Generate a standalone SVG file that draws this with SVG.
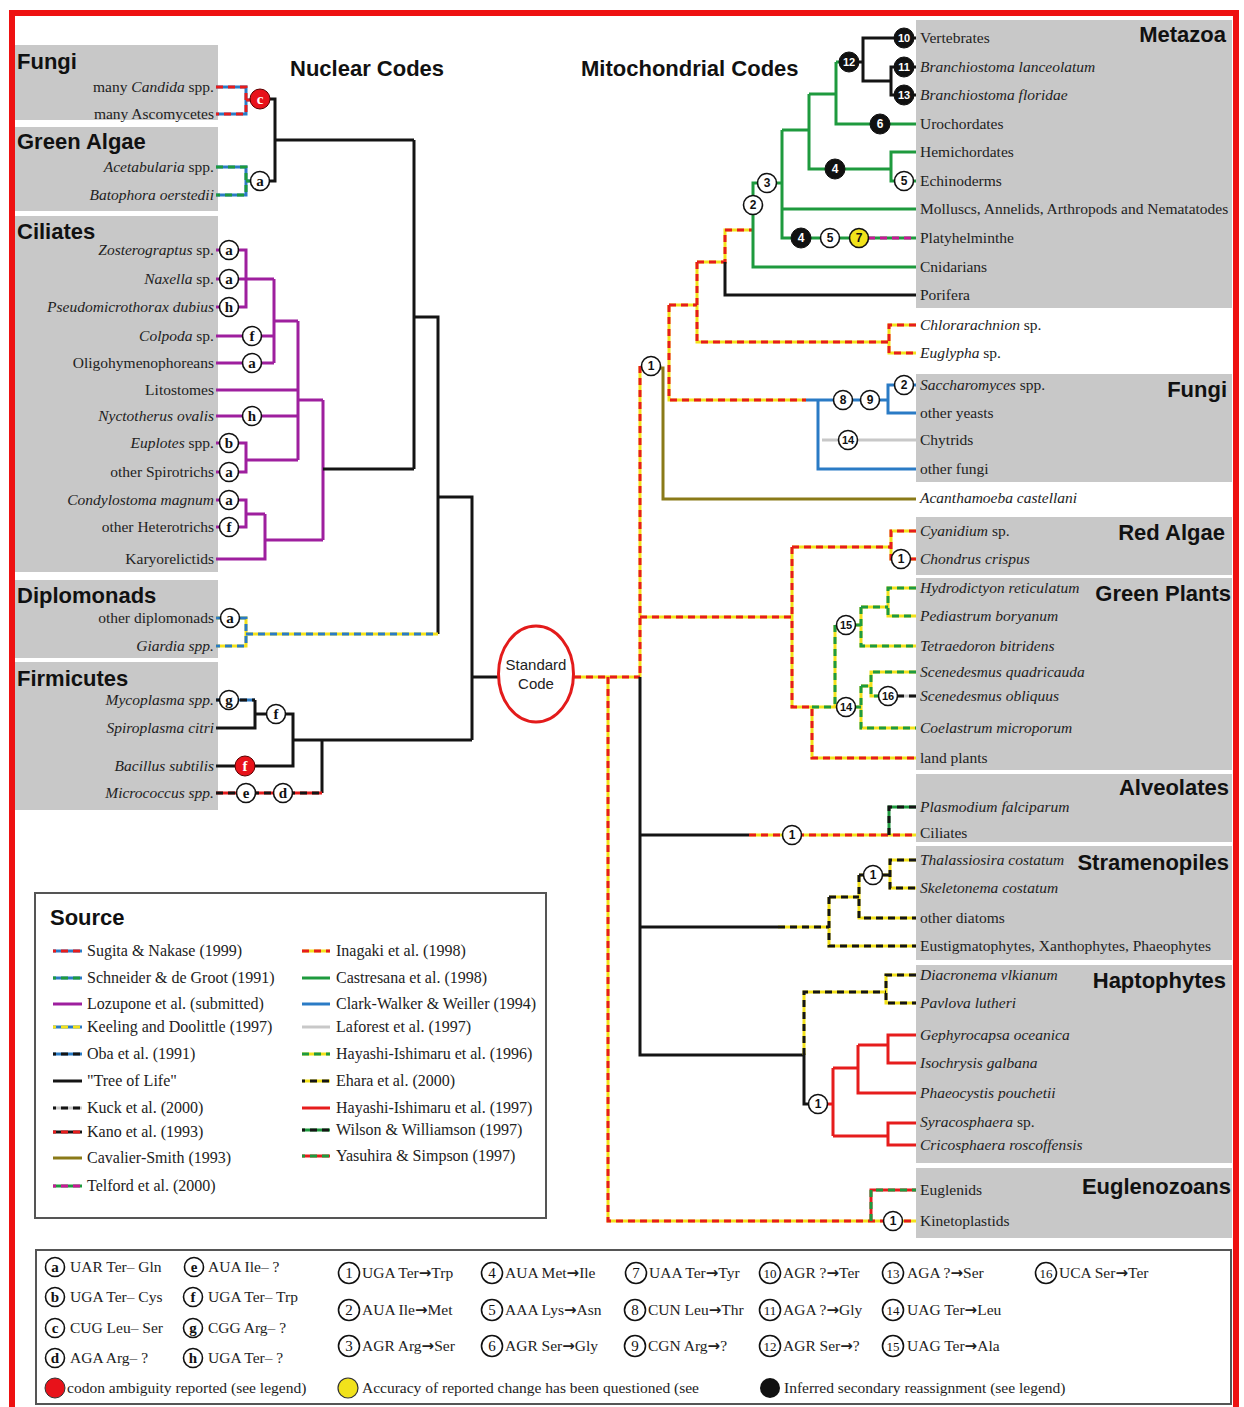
<svg xmlns="http://www.w3.org/2000/svg" width="1244" height="1407" viewBox="0 0 1244 1407">
<defs>
<style>
text{font-family:"Liberation Serif","Times New Roman",serif;fill:#222}
.t{font-size:15.5px}
.te{font-size:15.5px;text-anchor:end}
.i{font-style:italic}
.h{font-family:"Liberation Sans",Arial,sans-serif;font-weight:bold;font-size:22px;fill:#111}
.he{font-family:"Liberation Sans",Arial,sans-serif;font-weight:bold;font-size:22px;fill:#111;text-anchor:end}
.L{font-size:16px}
.B{font-size:15.5px}
.ar{font-family:"DejaVu Sans",sans-serif;font-weight:bold;font-size:15px}
.box{fill:#c8c8c8}
.ln{fill:none;stroke-width:3}
.k{stroke:#141414}.p{stroke:#9e1f9e}.g{stroke:#1e9a3e}.b{stroke:#2a7bc5}.q{stroke:#c8c8c8}.r{stroke:#e61c1c}.o{stroke:#8a7a18}.y{stroke:#f3e21b}.m{stroke:#c81896}
.d{stroke-dasharray:7 5}
.cw circle{fill:#fff;stroke:#111;stroke-width:1.6}
.ck circle{fill:#111;stroke:#111;stroke-width:1}
.cr circle{fill:#e8121a;stroke:#5a0000;stroke-width:1}
.cy circle{fill:#f1e21b;stroke:#111;stroke-width:1.6}
.n{font-family:"Liberation Sans",Arial,sans-serif;font-weight:bold;font-size:12px;text-anchor:middle;fill:#111}
.n2{font-size:11px}
.ck .n{fill:#fff}
.lt{font-weight:bold;font-size:15px;text-anchor:middle;fill:#111}
.cr .lt{fill:#fff}
.ln1{font-size:15px;text-anchor:middle;fill:#111}
</style>
<path id="nF" d="M216,87H246V114H216M246,100H251"/>
<path id="nG" d="M216,167H246V195H216M246,181H251"/>
<path id="nD" d="M216,618H246V646H216M246,634H438"/>
<path id="nMy" d="M216,700H255"/>
<path id="nMi" d="M216,793H322"/>
<path id="i1" d="M574,677H640M608,677V1221H916M640,366V677M640,617H792V707H812V758H916M792,547V617M792,547H891M916,531H891V559H916M669,305V400H806M669,305H697M697,262V342H889M916,325H889V353H916M697,262H725V230H753M749,835H916"/>
<path id="h6" d="M812,707H837M835,625V707M855,625H861M861,607V646H916M861,607H888M916,588H888V616H916M855,707H861M861,686V728H916M861,686H871M916,672H871V696H879"/>
<path id="ku" d="M897,696H916"/>
<path id="tf" d="M868,238H916"/>
<path id="ww" d="M889,835V807H916"/>
<path id="eh" d="M778,927H829M829,897V946H916M829,897H859M859,875V918H916M859,875H864M882,875H890M916,860H890V888H916M804,1055V992H886M916,975H886V1003H916"/>
<path id="ys" d="M871,1221V1190H916"/>
</defs>
<rect width="1244" height="1407" fill="#fff"/>

<g id="panels">
<rect class="box" x="14" y="45" width="204" height="75"/>
<rect class="box" x="14" y="127" width="204" height="84"/>
<rect class="box" x="14" y="216" width="204" height="356"/>
<rect class="box" x="14" y="580" width="204" height="78"/>
<rect class="box" x="14" y="662" width="204" height="148"/>
<rect class="box" x="916" y="20" width="316" height="288"/>
<rect class="box" x="916" y="374" width="316" height="108"/>
<rect class="box" x="916" y="517" width="316" height="58"/>
<rect class="box" x="916" y="578" width="316" height="192"/>
<rect class="box" x="916" y="774" width="316" height="68"/>
<rect class="box" x="916" y="846" width="316" height="114"/>
<rect class="box" x="916" y="965" width="316" height="198"/>
<rect class="box" x="916" y="1168" width="316" height="70"/>
</g>

<g id="titles">
<text class="h" x="290" y="76">Nuclear Codes</text>
<text class="h" x="581" y="76">Mitochondrial Codes</text>
<text class="h" x="17" y="69">Fungi</text>
<text class="h" x="17" y="149">Green Algae</text>
<text class="h" x="17" y="239">Ciliates</text>
<text class="h" x="17" y="603">Diplomonads</text>
<text class="h" x="17" y="686">Firmicutes</text>
<text class="he" x="1226" y="42">Metazoa</text>
<text class="he" x="1227" y="397">Fungi</text>
<text class="he" x="1225" y="540">Red Algae</text>
<text class="he" x="1231" y="601">Green Plants</text>
<text class="he" x="1229" y="795">Alveolates</text>
<text class="he" x="1229" y="870">Stramenopiles</text>
<text class="he" x="1226" y="988">Haptophytes</text>
<text class="he" x="1231" y="1194">Euglenozoans</text>
</g>

<g id="connectors">
<use href="#nF" class="ln b"/><use href="#nF" class="ln r d"/>
<use href="#nG" class="ln b"/><use href="#nG" class="ln g d"/>
<path class="ln k" d="M270,99H275V181H270M275,140H414"/>
<path class="ln p" d="M216,250H246V307H216M216,279H274M216,336H274M216,363H274M274,279V363M274,321H298M216,390H298M216,416H298M216,443H246V472H216M246,460H298M298,321V460M298,400H323M216,500H246V527H216M246,514H265M216,559H265V514M265,540H323M323,400V540"/>
<path class="ln k" d="M323,469H414M414,140V469M414,317H438V634M438,497H472V740M472,677H498"/>
<use href="#nD" class="ln y"/><use href="#nD" class="ln b d"/>
<use href="#nMy" class="ln b"/><use href="#nMy" class="ln k d"/>
<path class="ln k" d="M255,700V728H216M255,714H293V766H216M293,740H472M322,740V793"/>
<use href="#nMi" class="ln r"/><use href="#nMi" class="ln k d"/>

<use href="#i1" class="ln y"/><use href="#i1" class="ln r d"/>
<path class="ln k" d="M725,262V295H916M640,677V1055H804V1104H810M640,835H749M640,927H778"/>
<path class="ln g" d="M753,214V267H916M753,196V183H758M776,183H782M782,130V238H860M782,209H916M782,130H809V169H891M809,94V130M809,94H836M836,62V124H916M836,62H845M916,152H891V181H916"/>
<use href="#tf" class="ln g"/><use href="#tf" class="ln m d"/>
<path class="ln k" d="M858,62H863V38H916M863,38V81H891M916,67H891V95H916"/>
<path class="ln b" d="M806,400H888M916,385H888V413H916M818,400V469H916"/>
<path class="ln q" d="M822,440H916"/>
<path class="ln o" d="M660,368H663V499H916"/>
<use href="#h6" class="ln y"/><use href="#h6" class="ln g d"/>
<use href="#ku" class="ln q"/><use href="#ku" class="ln k d"/>
<use href="#ww" class="ln g"/><use href="#ww" class="ln k d"/>
<use href="#eh" class="ln y"/><use href="#eh" class="ln k d"/>
<path class="ln r" d="M810,1104H833M833,1068V1136M833,1068H858M858,1045V1093H916M858,1045H888M916,1035H888V1063H916M833,1136H888M916,1123H888V1145H916"/>
<use href="#ys" class="ln r"/><use href="#ys" class="ln g d"/>
</g>

<g id="standard-code">
<ellipse cx="536" cy="674" rx="37.5" ry="48" fill="#fff" stroke="#e31b1b" stroke-width="3"/>
<text x="536" y="670" text-anchor="middle" style="font-family:'Liberation Sans',Arial,sans-serif;font-size:15px;fill:#222">Standard</text>
<text x="536" y="689" text-anchor="middle" style="font-family:'Liberation Sans',Arial,sans-serif;font-size:15px;fill:#222">Code</text>
</g>

<g id="nuclear-labels">
<g id="t-candida"><text class="te" x="214" y="92">many <tspan class="i">Candida</tspan> spp.</text></g>
<g id="t-ascomycetes"><text class="te" x="214" y="119">many Ascomycetes</text></g>
<g id="t-acetabularia"><text class="te" x="214" y="172"><tspan class="i">Acetabularia</tspan> spp.</text></g>
<g id="t-batophora"><text class="te i" x="214" y="200">Batophora oerstedii</text></g>
<g id="t-zosterograptus"><text class="te" x="214" y="255"><tspan class="i">Zosterograptus</tspan> sp.</text></g>
<g id="t-naxella"><text class="te" x="214" y="284"><tspan class="i">Naxella</tspan> sp.</text></g>
<g id="t-pseudomicrothorax"><text class="te i" x="214" y="312">Pseudomicrothorax dubius</text></g>
<g id="t-colpoda"><text class="te" x="214" y="341"><tspan class="i">Colpoda</tspan> sp.</text></g>
<g id="t-oligo"><text class="te" x="214" y="368">Oligohymenophoreans</text></g>
<g id="t-litostomes"><text class="te" x="214" y="395">Litostomes</text></g>
<g id="t-nyctotherus"><text class="te i" x="214" y="421">Nyctotherus ovalis</text></g>
<g id="t-euplotes"><text class="te" x="214" y="448"><tspan class="i">Euplotes</tspan> spp.</text></g>
<g id="t-spirotrichs"><text class="te" x="214" y="477">other Spirotrichs</text></g>
<g id="t-condylostoma"><text class="te i" x="214" y="505">Condylostoma magnum</text></g>
<g id="t-heterotrichs"><text class="te" x="214" y="532">other Heterotrichs</text></g>
<g id="t-karyorelictids"><text class="te" x="214" y="564">Karyorelictids</text></g>
<g id="t-diplomonads"><text class="te" x="214" y="623">other diplomonads</text></g>
<g id="t-giardia"><text class="te i" x="214" y="651">Giardia spp.</text></g>
<g id="t-mycoplasma"><text class="te i" x="214" y="705">Mycoplasma spp.</text></g>
<g id="t-spiroplasma"><text class="te i" x="214" y="733">Spiroplasma citri</text></g>
<g id="t-bacillus"><text class="te i" x="214" y="771">Bacillus subtilis</text></g>
<g id="t-micrococcus"><text class="te i" x="214" y="798">Micrococcus spp.</text></g>
</g>

<g id="mito-labels">
<g id="t-vertebrates"><text class="t" x="920" y="43">Vertebrates</text></g>
<g id="t-blanceolatum"><text class="t i" x="920" y="72">Branchiostoma lanceolatum</text></g>
<g id="t-bfloridae"><text class="t i" x="920" y="100">Branchiostoma floridae</text></g>
<g id="t-urochordates"><text class="t" x="920" y="129">Urochordates</text></g>
<g id="t-hemichordates"><text class="t" x="920" y="157">Hemichordates</text></g>
<g id="t-echinoderms"><text class="t" x="920" y="186">Echinoderms</text></g>
<g id="t-molluscs"><text class="t" x="920" y="214">Molluscs, Annelids, Arthropods and Nematatodes</text></g>
<g id="t-platyhelminthe"><text class="t" x="920" y="243">Platyhelminthe</text></g>
<g id="t-cnidarians"><text class="t" x="920" y="272">Cnidarians</text></g>
<g id="t-porifera"><text class="t" x="920" y="300">Porifera</text></g>
<g id="t-chlorarachnion"><text class="t" x="920" y="330"><tspan class="i">Chlorarachnion</tspan> sp.</text></g>
<g id="t-euglypha"><text class="t" x="920" y="358"><tspan class="i">Euglypha</tspan> sp.</text></g>
<g id="t-saccharomyces"><text class="t" x="920" y="390"><tspan class="i">Saccharomyces</tspan> spp.</text></g>
<g id="t-yeasts"><text class="t" x="920" y="418">other yeasts</text></g>
<g id="t-chytrids"><text class="t" x="920" y="445">Chytrids</text></g>
<g id="t-otherfungi"><text class="t" x="920" y="474">other fungi</text></g>
<g id="t-acanthamoeba"><text class="t i" x="920" y="503">Acanthamoeba castellani</text></g>
<g id="t-cyanidium"><text class="t" x="920" y="536"><tspan class="i">Cyanidium</tspan> sp.</text></g>
<g id="t-chondrus"><text class="t i" x="920" y="564">Chondrus crispus</text></g>
<g id="t-hydrodictyon"><text class="t i" x="920" y="593">Hydrodictyon reticulatum</text></g>
<g id="t-pediastrum"><text class="t i" x="920" y="621">Pediastrum boryanum</text></g>
<g id="t-tetraedoron"><text class="t i" x="920" y="651">Tetraedoron bitridens</text></g>
<g id="t-squadricauda"><text class="t i" x="920" y="677">Scenedesmus quadricauda</text></g>
<g id="t-sobliquus"><text class="t i" x="920" y="701">Scenedesmus obliquus</text></g>
<g id="t-coelastrum"><text class="t i" x="920" y="733">Coelastrum microporum</text></g>
<g id="t-landplants"><text class="t" x="920" y="763">land plants</text></g>
<g id="t-plasmodium"><text class="t i" x="920" y="812">Plasmodium falciparum</text></g>
<g id="t-ciliates"><text class="t" x="920" y="838">Ciliates</text></g>
<g id="t-thalassiosira"><text class="t i" x="920" y="865">Thalassiosira costatum</text></g>
<g id="t-skeletonema"><text class="t i" x="920" y="893">Skeletonema costatum</text></g>
<g id="t-diatoms"><text class="t" x="920" y="923">other diatoms</text></g>
<g id="t-eustig"><text class="t" x="920" y="951">Eustigmatophytes, Xanthophytes, Phaeophytes</text></g>
<g id="t-diacronema"><text class="t i" x="920" y="980">Diacronema vlkianum</text></g>
<g id="t-pavlova"><text class="t i" x="920" y="1008">Pavlova lutheri</text></g>
<g id="t-gephyrocapsa"><text class="t i" x="920" y="1040">Gephyrocapsa oceanica</text></g>
<g id="t-isochrysis"><text class="t i" x="920" y="1068">Isochrysis galbana</text></g>
<g id="t-phaeocystis"><text class="t i" x="920" y="1098">Phaeocystis pouchetii</text></g>
<g id="t-syracosphaera"><text class="t" x="920" y="1127"><tspan class="i">Syracosphaera</tspan> sp.</text></g>
<g id="t-cricosphaera"><text class="t i" x="920" y="1150">Cricosphaera roscoffensis</text></g>
<g id="t-euglenids"><text class="t" x="920" y="1195">Euglenids</text></g>
<g id="t-kinetoplastids"><text class="t" x="920" y="1226">Kinetoplastids</text></g>
</g>

<g id="badges-nuclear">
<g id="bn-c1" class="cr"><circle cx="260" cy="99" r="10"/><text class="lt" x="260" y="104">c</text></g>
<g id="bn-a1" class="cw"><circle cx="260" cy="181" r="9.5"/><text class="lt" x="260" y="186">a</text></g>
<g id="bn-a2" class="cw"><circle cx="229" cy="250" r="9.5"/><text class="lt" x="229" y="255">a</text></g>
<g id="bn-a3" class="cw"><circle cx="229" cy="279" r="9.5"/><text class="lt" x="229" y="284">a</text></g>
<g id="bn-h1" class="cw"><circle cx="229" cy="307" r="9.5"/><text class="lt" x="229" y="312">h</text></g>
<g id="bn-f1" class="cw"><circle cx="252" cy="336" r="9.5"/><text class="lt" x="252" y="341">f</text></g>
<g id="bn-a4" class="cw"><circle cx="252" cy="363" r="9.5"/><text class="lt" x="252" y="368">a</text></g>
<g id="bn-h2" class="cw"><circle cx="252" cy="416" r="9.5"/><text class="lt" x="252" y="421">h</text></g>
<g id="bn-b1" class="cw"><circle cx="229" cy="443" r="9.5"/><text class="lt" x="229" y="448">b</text></g>
<g id="bn-a5" class="cw"><circle cx="229" cy="472" r="9.5"/><text class="lt" x="229" y="477">a</text></g>
<g id="bn-a6" class="cw"><circle cx="229" cy="500" r="9.5"/><text class="lt" x="229" y="505">a</text></g>
<g id="bn-f2" class="cw"><circle cx="229" cy="527" r="9.5"/><text class="lt" x="229" y="532">f</text></g>
<g id="bn-a7" class="cw"><circle cx="230" cy="618" r="9.5"/><text class="lt" x="230" y="623">a</text></g>
<g id="bn-g1" class="cw"><circle cx="229" cy="700" r="9.5"/><text class="lt" x="229" y="705">g</text></g>
<g id="bn-f3" class="cw"><circle cx="276" cy="714" r="9.5"/><text class="lt" x="276" y="719">f</text></g>
<g id="bn-f4" class="cr"><circle cx="245" cy="766" r="10"/><text class="lt" x="245" y="771">f</text></g>
<g id="bn-e1" class="cw"><circle cx="246" cy="793" r="9.5"/><text class="lt" x="246" y="798">e</text></g>
<g id="bn-d1" class="cw"><circle cx="283" cy="793" r="9.5"/><text class="lt" x="283" y="798">d</text></g>
</g>

<g id="badges-mito">
<g id="bm-10" class="ck"><circle cx="904" cy="38" r="10"/><text class="n n2" x="904" y="42">10</text></g>
<g id="bm-12" class="ck"><circle cx="849" cy="62" r="10"/><text class="n n2" x="849" y="66">12</text></g>
<g id="bm-11" class="ck"><circle cx="904" cy="67" r="10"/><text class="n n2" x="904" y="71">11</text></g>
<g id="bm-13" class="ck"><circle cx="904" cy="95" r="10"/><text class="n n2" x="904" y="99">13</text></g>
<g id="bm-6" class="ck"><circle cx="880" cy="124" r="10"/><text class="n" x="880" y="128">6</text></g>
<g id="bm-4a" class="ck"><circle cx="835" cy="169" r="10"/><text class="n" x="835" y="173">4</text></g>
<g id="bm-5a" class="cw"><circle cx="904" cy="181" r="9.5"/><text class="n" x="904" y="185">5</text></g>
<g id="bm-3" class="cw"><circle cx="767" cy="183" r="9.5"/><text class="n" x="767" y="187">3</text></g>
<g id="bm-2a" class="cw"><circle cx="753" cy="205" r="9.5"/><text class="n" x="753" y="209">2</text></g>
<g id="bm-4b" class="ck"><circle cx="801" cy="238" r="10"/><text class="n" x="801" y="242">4</text></g>
<g id="bm-5b" class="cw"><circle cx="830" cy="238" r="9.5"/><text class="n" x="830" y="242">5</text></g>
<g id="bm-7" class="cy"><circle cx="859" cy="238" r="9.5"/><text class="n" x="859" y="242">7</text></g>
<g id="bm-1a" class="cw"><circle cx="651" cy="366" r="9.5"/><text class="n" x="651" y="370">1</text></g>
<g id="bm-8" class="cw"><circle cx="843" cy="400" r="9.5"/><text class="n" x="843" y="404">8</text></g>
<g id="bm-9" class="cw"><circle cx="870" cy="400" r="9.5"/><text class="n" x="870" y="404">9</text></g>
<g id="bm-2b" class="cw"><circle cx="904" cy="385" r="9.5"/><text class="n" x="904" y="389">2</text></g>
<g id="bm-14a" class="cw"><circle cx="848" cy="440" r="9.5"/><text class="n n2" x="848" y="444">14</text></g>
<g id="bm-1b" class="cw"><circle cx="901" cy="559" r="9.5"/><text class="n" x="901" y="563">1</text></g>
<g id="bm-15" class="cw"><circle cx="846" cy="625" r="9.5"/><text class="n n2" x="846" y="629">15</text></g>
<g id="bm-14b" class="cw"><circle cx="846" cy="707" r="9.5"/><text class="n n2" x="846" y="711">14</text></g>
<g id="bm-16" class="cw"><circle cx="888" cy="696" r="9.5"/><text class="n n2" x="888" y="700">16</text></g>
<g id="bm-1c" class="cw"><circle cx="792" cy="835" r="9.5"/><text class="n" x="792" y="839">1</text></g>
<g id="bm-1d" class="cw"><circle cx="873" cy="875" r="9.5"/><text class="n" x="873" y="879">1</text></g>
<g id="bm-1e" class="cw"><circle cx="818" cy="1104" r="9.5"/><text class="n" x="818" y="1108">1</text></g>
<g id="bm-1f" class="cw"><circle cx="893" cy="1221" r="9.5"/><text class="n" x="893" y="1225">1</text></g>
</g>

<g id="source-legend">
<rect x="35" y="893" width="511" height="325" fill="#fff" stroke="#555" stroke-width="2"/>
<text class="h" x="50" y="925">Source</text>
<path class="ln b" d="M53,951H82"/><path class="ln r d" d="M53,951H82" style="stroke-dashoffset:-8"/>
<path class="ln b" d="M53,978H82"/><path class="ln g d" d="M53,978H82" style="stroke-dashoffset:-8"/>
<path class="ln p" d="M53,1004H82"/>
<path class="ln b" d="M53,1027H82"/><path class="ln y d" d="M53,1027H82" style="stroke-dashoffset:-8"/>
<path class="ln b" d="M53,1054H82"/><path class="ln k d" d="M53,1054H82" style="stroke-dashoffset:-8"/>
<path class="ln k" d="M53,1081H82"/>
<path class="ln q" d="M53,1108H82"/><path class="ln k d" d="M53,1108H82" style="stroke-dashoffset:-8"/>
<path class="ln k" d="M53,1132H82"/><path class="ln r d" d="M53,1132H82" style="stroke-dashoffset:-8"/>
<path class="ln o" d="M53,1158H82"/>
<path class="ln g" d="M53,1186H82"/><path class="ln m d" d="M53,1186H82" style="stroke-dashoffset:-8"/>
<text class="L" x="87" y="956">Sugita &amp; Nakase (1999)</text>
<text class="L" x="87" y="983">Schneider &amp; de Groot (1991)</text>
<text class="L" x="87" y="1009">Lozupone et al. (submitted)</text>
<text class="L" x="87" y="1032">Keeling and Doolittle (1997)</text>
<text class="L" x="87" y="1059">Oba et al. (1991)</text>
<text class="L" x="87" y="1086">"Tree of Life"</text>
<text class="L" x="87" y="1113">Kuck et al. (2000)</text>
<text class="L" x="87" y="1137">Kano et al. (1993)</text>
<text class="L" x="87" y="1163">Cavalier-Smith (1993)</text>
<text class="L" x="87" y="1191">Telford et al. (2000)</text>
<path class="ln y" d="M302,951H330"/><path class="ln r d" d="M302,951H330"/>
<path class="ln g" d="M302,978H330"/>
<path class="ln b" d="M302,1004H330"/>
<path class="ln q" d="M302,1027H330"/>
<path class="ln y" d="M302,1054H330"/><path class="ln g d" d="M302,1054H330"/>
<path class="ln y" d="M302,1081H330"/><path class="ln k d" d="M302,1081H330" style="stroke-dashoffset:-8"/>
<path class="ln r" d="M302,1108H330"/>
<path class="ln g" d="M302,1130H330"/><path class="ln k d" d="M302,1130H330" style="stroke-dashoffset:-8"/>
<path class="ln r" d="M302,1156H330"/><path class="ln g d" d="M302,1156H330" style="stroke-dashoffset:-8"/>
<text class="L" x="336" y="956">Inagaki et al. (1998)</text>
<text class="L" x="336" y="983">Castresana et al. (1998)</text>
<text class="L" x="336" y="1009">Clark-Walker &amp; Weiller (1994)</text>
<text class="L" x="336" y="1032">Laforest et al. (1997)</text>
<text class="L" x="336" y="1059">Hayashi-Ishimaru et al. (1996)</text>
<text class="L" x="336" y="1086">Ehara et al. (2000)</text>
<text class="L" x="336" y="1113">Hayashi-Ishimaru et al. (1997)</text>
<text class="L" x="336" y="1135">Wilson &amp; Williamson (1997)</text>
<text class="L" x="336" y="1161">Yasuhira &amp; Simpson (1997)</text>
</g>

<g id="code-legend">
<rect x="36" y="1250" width="1195" height="154" fill="#fff" stroke="#555" stroke-width="2"/>
<g class="cw">
<circle cx="55" cy="1267" r="9.5"/><text class="lt" x="55" y="1272">a</text>
<circle cx="55" cy="1297" r="9.5"/><text class="lt" x="55" y="1302">b</text>
<circle cx="55" cy="1328" r="9.5"/><text class="lt" x="55" y="1333">c</text>
<circle cx="55" cy="1358" r="9.5"/><text class="lt" x="55" y="1363">d</text>
<circle cx="194" cy="1267" r="9.5"/><text class="lt" x="194" y="1272">e</text>
<circle cx="193" cy="1297" r="9.5"/><text class="lt" x="193" y="1302">f</text>
<circle cx="193" cy="1328" r="9.5"/><text class="lt" x="193" y="1333">g</text>
<circle cx="193" cy="1358" r="9.5"/><text class="lt" x="193" y="1363">h</text>
</g>
<text class="B" x="70" y="1272">UAR Ter– Gln</text>
<text class="B" x="70" y="1302">UGA Ter– Cys</text>
<text class="B" x="70" y="1333">CUG Leu– Ser</text>
<text class="B" x="70" y="1363">AGA Arg– ?</text>
<text class="B" x="208" y="1272">AUA Ile– ?</text>
<text class="B" x="208" y="1302">UGA Ter– Trp</text>
<text class="B" x="208" y="1333">CGG Arg– ?</text>
<text class="B" x="208" y="1363">UGA Ter– ?</text>
<g class="cw">
<circle cx="349" cy="1273" r="10.5"/><text class="ln1" x="349" y="1278">1</text>
<circle cx="349" cy="1310" r="10.5"/><text class="ln1" x="349" y="1315">2</text>
<circle cx="349" cy="1346" r="10.5"/><text class="ln1" x="349" y="1351">3</text>
<circle cx="492" cy="1273" r="10.5"/><text class="ln1" x="492" y="1278">4</text>
<circle cx="492" cy="1310" r="10.5"/><text class="ln1" x="492" y="1315">5</text>
<circle cx="492" cy="1346" r="10.5"/><text class="ln1" x="492" y="1351">6</text>
<circle cx="636" cy="1273" r="10.5"/><text class="ln1" x="636" y="1278">7</text>
<circle cx="635" cy="1310" r="10.5"/><text class="ln1" x="635" y="1315">8</text>
<circle cx="635" cy="1346" r="10.5"/><text class="ln1" x="635" y="1351">9</text>
<circle cx="770" cy="1273" r="10.5"/><text class="ln1" x="770" y="1278" style="font-size:13px">10</text>
<circle cx="770" cy="1310" r="10.5"/><text class="ln1" x="770" y="1315" style="font-size:13px">11</text>
<circle cx="770" cy="1346" r="10.5"/><text class="ln1" x="770" y="1351" style="font-size:13px">12</text>
<circle cx="893" cy="1273" r="10.5"/><text class="ln1" x="893" y="1278" style="font-size:13px">13</text>
<circle cx="893" cy="1310" r="10.5"/><text class="ln1" x="893" y="1315" style="font-size:13px">14</text>
<circle cx="893" cy="1346" r="10.5"/><text class="ln1" x="893" y="1351" style="font-size:13px">15</text>
<circle cx="1046" cy="1273" r="10.5"/><text class="ln1" x="1046" y="1278" style="font-size:13px">16</text>
</g>
<text class="B" x="362" y="1278">UGA Ter<tspan class="ar">→</tspan>Trp</text>
<text class="B" x="362" y="1315">AUA Ile<tspan class="ar">→</tspan>Met</text>
<text class="B" x="362" y="1351">AGR Arg<tspan class="ar">→</tspan>Ser</text>
<text class="B" x="505" y="1278">AUA Met<tspan class="ar">→</tspan>Ile</text>
<text class="B" x="505" y="1315">AAA Lys<tspan class="ar">→</tspan>Asn</text>
<text class="B" x="505" y="1351">AGR Ser<tspan class="ar">→</tspan>Gly</text>
<text class="B" x="649" y="1278">UAA Ter<tspan class="ar">→</tspan>Tyr</text>
<text class="B" x="648" y="1315">CUN Leu<tspan class="ar">→</tspan>Thr</text>
<text class="B" x="648" y="1351">CGN Arg<tspan class="ar">→</tspan>?</text>
<text class="B" x="783" y="1278">AGR ?<tspan class="ar">→</tspan>Ter</text>
<text class="B" x="783" y="1315">AGA ?<tspan class="ar">→</tspan>Gly</text>
<text class="B" x="783" y="1351">AGR Ser<tspan class="ar">→</tspan>?</text>
<text class="B" x="907" y="1278">AGA ?<tspan class="ar">→</tspan>Ser</text>
<text class="B" x="907" y="1315">UAG Ter<tspan class="ar">→</tspan>Leu</text>
<text class="B" x="907" y="1351">UAG Ter<tspan class="ar">→</tspan>Ala</text>
<text class="B" x="1059" y="1278">UCA Ser<tspan class="ar">→</tspan>Ter</text>
<circle cx="55" cy="1388" r="10" fill="#e8121a" stroke="#333" stroke-width="1"/>
<text class="B" x="67" y="1393">codon ambiguity reported (see legend)</text>
<circle cx="348" cy="1388" r="10" fill="#f1e21b" stroke="#333" stroke-width="1.2"/>
<text class="B" x="362" y="1393">Accuracy of reported change has been questioned (see</text>
<circle cx="770" cy="1388" r="10" fill="#111"/>
<text class="B" x="784" y="1393">Inferred secondary reassignment (see legend)</text>
</g>

<rect id="frame" x="12" y="13" width="1224" height="1420" fill="none" stroke="#ee1111" stroke-width="6"/>
</svg>
